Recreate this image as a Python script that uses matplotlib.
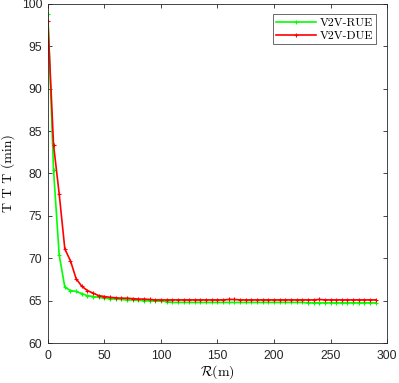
import matplotlib
matplotlib.use('Agg')
import matplotlib.pyplot as plt
import numpy as np

plt.rcParams['mathtext.fontset'] = 'cm'

r = np.arange(0, 295, 5)

# T T T (min), one value every 5 m
rue = [98.8, 80.4, 70.4, 66.6, 66.2, 66.1, 65.85, 65.6, 65.5, 65.4,
       65.3, 65.25, 65.2, 65.15, 65.1, 65.1, 65.05, 65.0, 65.0, 64.95,
       64.95, 64.9, 64.8, 64.8, 64.8, 64.8, 64.8, 64.8, 64.8, 64.8,
       64.8, 64.8, 64.8, 64.8, 64.8, 64.8, 64.8, 64.8, 64.8, 64.8,
       64.8, 64.8, 64.8, 64.8, 64.8, 64.8, 64.75, 64.75, 64.75, 64.75,
       64.75, 64.75, 64.75, 64.75, 64.75, 64.75, 64.75, 64.75, 64.75]
due = [98.0, 83.4, 77.6, 71.1, 69.7, 67.6, 66.7, 66.2, 65.9, 65.6,
       65.5, 65.4, 65.35, 65.3, 65.3, 65.25, 65.2, 65.2, 65.15, 65.1,
       65.1, 65.1, 65.1, 65.1, 65.1, 65.1, 65.1, 65.1, 65.1, 65.1,
       65.1, 65.1, 65.15, 65.15, 65.1, 65.1, 65.1, 65.1, 65.1, 65.1,
       65.1, 65.1, 65.1, 65.1, 65.1, 65.1, 65.1, 65.1, 65.15, 65.1,
       65.1, 65.1, 65.1, 65.1, 65.1, 65.1, 65.1, 65.1, 65.1]
labels = ['V2V-RUE', 'V2V-DUE']

fig = plt.figure(figsize=(3.99, 3.83), dpi=100)
ax = fig.add_axes([0.12, 0.104, 0.85, 0.886])

ax.plot(r, rue, color='#00ff00', lw=1.2, marker='+', ms=3, mew=0.8, label=labels[0])
ax.plot(r, due, color='#ff0000', lw=1.2, marker='+', ms=3, mew=0.8, label=labels[1])

ax.set_xlim(0, 300)
ax.set_ylim(60, 100)
ax.set_xticks(np.arange(0, 301, 50))
ax.set_yticks(np.arange(60, 101, 5))
ax.tick_params(direction='in', top=True, right=True, length=3, width=0.6,
               colors='#262626', labelsize=8.7)
ax.tick_params(axis='x', pad=5)
ax.tick_params(axis='y', pad=4)
for lbl in ax.get_xticklabels() + ax.get_yticklabels():
    lbl.set_fontfamily('Liberation Sans')
for s in ax.spines.values():
    s.set_color('#262626')
    s.set_linewidth(0.6)

ax.set_xlabel(r'$\mathcal{R}$(m)', fontsize=10, fontfamily='cmr10', labelpad=1)
ax.set_ylabel('T T T (min)', fontsize=10, fontfamily='cmr10', labelpad=5)

leg = ax.legend(loc='upper right', prop={'family': 'cmr10', 'size': 8.5},
                fancybox=False, edgecolor='#262626', handlelength=3.4,
                borderpad=0.3, labelspacing=0.2, handletextpad=0.25,
                borderaxespad=0.9)
leg.get_frame().set_linewidth(0.6)

fig.savefig('out.png', dpi=100)
